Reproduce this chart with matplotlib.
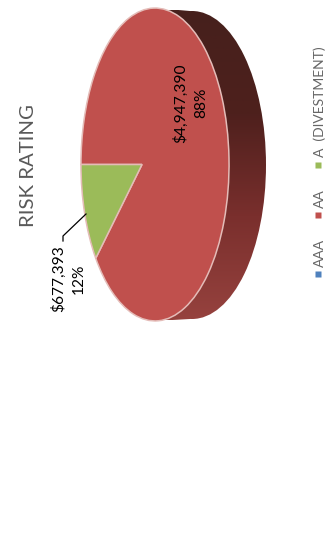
import numpy as np
import matplotlib
matplotlib.use("Agg")
import matplotlib.pyplot as plt
from matplotlib.patches import Ellipse, PathPatch
from matplotlib.path import Path
from matplotlib.transforms import Transform
from matplotlib.colors import LinearSegmentedColormap

plt.rcParams['font.family'] = ['Lato', 'DejaVu Sans']

categories = ['AAA', 'AA', 'A  (DIVESTMENT)']
values = [0, 4947390, 677393]
colors = ['#4f81bd', '#c0504d', '#9bbb59']
percent_labels = ['', '88%', '12%']


class Tilt(Transform):
    # flat pie -> tilted perspective disc, in pixels
    input_dims = 2
    output_dims = 2

    def transform_non_affine(self, xy):
        xy = np.asarray(xy, dtype=float)
        w = 1 - 0.1757 * xy[:, 0]
        return np.column_stack([(46.8 * xy[:, 0] + 142) / w,
                                154 * xy[:, 1] / w + 164.5])

    def transform_path_non_affine(self, path):
        return Path(self.transform_non_affine(path.vertices), path.codes)


fig = plt.figure(figsize=(3.31, 5.46), dpi=100)
ax = fig.add_axes([0, 0, 1, 1])

wedges, _ = ax.pie(values, colors=colors, startangle=180,
                   wedgeprops=dict(edgecolor='#e4bcb8', linewidth=1.1))
ax.set_aspect('auto')

# side wall: back disc plus the bridge over to the front disc
wall = LinearSegmentedColormap.from_list('wall', ['#46201c', '#4e201d', '#7a2f2d', '#96423e'])
grad = ax.imshow(np.linspace(0, 1, 256).reshape(-1, 1), cmap=wall, aspect='auto',
                 extent=(140, 270, 320, 10), zorder=0.5)
back = Ellipse((192, 165), 148, 308)
outline = Path.make_compound_path(
    back.get_patch_transform().transform_path(back.get_path()),
    Path([(155, 8), (190, 11), (190, 319), (155, 321), (155, 8)], closed=True))
clip = PathPatch(outline, transform=ax.transData, fc='none', ec='none')
ax.add_patch(clip)
grad.set_clip_path(clip)

tilt = Tilt()
for w in wedges:
    w.set_transform(tilt + ax.transData)
    w.set_zorder(2)
    w.set_clip_on(False)

ax.set_xlim(0, 331)
ax.set_ylim(546, 0)
ax.axis('off')

ax.text(28.5, 166, 'RISK RATING', rotation=90, ha='center', va='center',
        fontsize=14.7, color='#595959')

ax.text(190.5, 103, f"${values[1]:,}\n{percent_labels[1]}", rotation=90, ha='center', va='center',
        fontsize=11.2, color='black', linespacing=1.5, zorder=3)
ax.text(68, 279, f"${values[2]:,}\n{percent_labels[2]}", rotation=90, ha='center', va='center',
        fontsize=11.2, color='black', linespacing=1.5, zorder=3)
ax.plot([86, 63, 63], [214, 236, 241], color='black', lw=0.9, zorder=3)

# legend, drawn sideways
for name, col, my, ty in zip(categories, colors, [274, 215, 165], [267, 208, 157]):
    ax.plot([318], [my], marker='s', ms=4, color=col, mec='none', ls='none')
    ax.text(319.5, ty, name, rotation=90, ha='center', va='bottom',
            fontsize=10, color='#666666')

fig.savefig('out.png', dpi=100)
